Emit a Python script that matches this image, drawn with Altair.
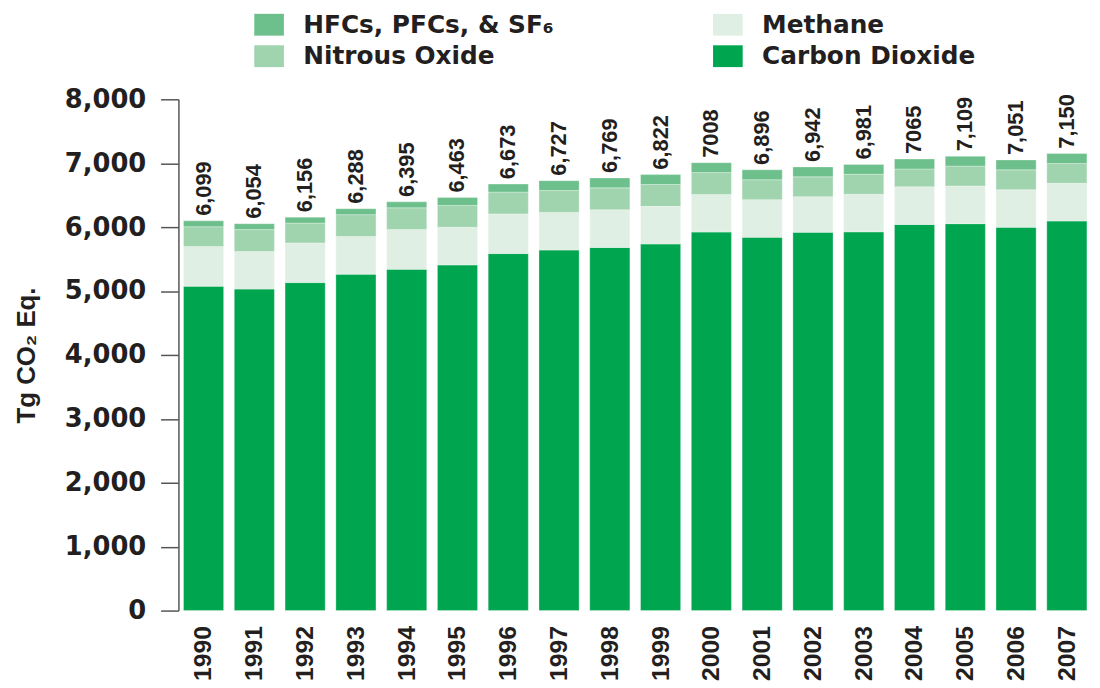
import altair as alt
import pandas as pd

years = ["1990", "1991", "1992", "1993", "1994", "1995", "1996", "1997", "1998",
         "1999", "2000", "2001", "2002", "2003", "2004", "2005", "2006", "2007"]
co2 = [5075, 5030, 5132, 5264, 5340, 5408, 5586, 5640, 5682,
       5736, 5922, 5841, 5918, 5926, 6041, 6054, 5996, 6095]
ch4 = [620, 589, 621, 590, 621, 590, 621, 590, 590,
       589, 589, 589, 558, 589, 590, 590, 590, 590]
n2o = [311, 342, 310, 341, 341, 341, 341, 342, 342,
       342, 342, 311, 311, 311, 279, 310, 310, 310]
hfc = [93, 93, 93, 93, 93, 124, 125, 155, 155,
       155, 155, 155, 155, 155, 155, 155, 155, 155]
total_labels = ["6,099", "6,054", "6,156", "6,288", "6,395", "6,463", "6,673", "6,727", "6,769",
                "6,822", "7008", "6,896", "6,942", "6,981", "7065", "7,109", "7,051", "7,150"]

gas_names = ["HFCs, PFCs, & SF\u2086", "Nitrous Oxide", "Methane", "Carbon Dioxide"]
gas_colors = ["#6DC08B", "#A0D4AE", "#E0EFE3", "#00A64F"]
series = [("Carbon Dioxide", co2, 0), ("Methane", ch4, 1),
          ("Nitrous Oxide", n2o, 2), ("HFCs, PFCs, & SF\u2086", hfc, 3)]

rows = []
for i, yr in enumerate(years):
    for name, vals, rank in series:
        rows.append({"year": yr, "gas": name, "value": vals[i], "rank": rank})
df = pd.DataFrame(rows)

tot = pd.DataFrame({
    "year": years,
    "total": [co2[i] + ch4[i] + n2o[i] + hfc[i] for i in range(len(years))],
    "label": total_labels,
})

TXT = "#231F20"
NARROW = "Liberation Sans, Arial, sans-serif"
x_enc = alt.X("year:N", title=None,
              scale=alt.Scale(paddingInner=0.21, paddingOuter=0.1),
              axis=alt.Axis(labelAngle=-90, labelFont=NARROW,
                            labelFontWeight="bold", labelFontSize=25, labelColor=TXT,
                            labelPadding=15, ticks=False, domain=False))

bars = alt.Chart(df).mark_bar(stroke="white", strokeWidth=0.6, strokeOpacity=0.5).encode(
    x=x_enc,
    y=alt.Y("value:Q", stack="zero",
            scale=alt.Scale(domain=[0, 8000], nice=False),
            axis=alt.Axis(values=[0, 1000, 2000, 3000, 4000, 5000, 6000, 7000, 8000],
                          format=",d", grid=False, domainColor="#555555", domainWidth=1.5,
                          tickColor="#555555", tickWidth=1.5, tickSize=18,
                          labelPadding=15, labelFont="DejaVu Sans", labelFontWeight="bold",
                          labelFontSize=26, labelColor=TXT,
                          title="Tg CO\u2082 Eq.", titleFont=NARROW,
                          titleFontWeight="bold", titleFontSize=26, titleColor=TXT,
                          titleAngle=270, titleAlign="center", titleBaseline="middle",
                          titleX=-153, titleY=258)),
    color=alt.Color("gas:N",
                    scale=alt.Scale(domain=gas_names, range=gas_colors),
                    legend=alt.Legend(orient="none", legendX=79, legendY=-88, columns=2,
                                      columnPadding=160, rowPadding=6, title=None,
                                      labelFont="DejaVu Sans", labelFontWeight="bold",
                                      labelFontSize=25, labelColor=TXT, labelLimit=400,
                                      labelOffset=22, padding=0,
                                      symbolType="M-1.36,-1L1.36,-1L1.36,1L-1.36,1Z",
                                      symbolSize=484, symbolStrokeWidth=0,
                                      symbolOpacity=1)),
    order=alt.Order("rank:Q", sort="ascending"),
)

labels = alt.Chart(tot).mark_text(angle=270, align="left", baseline="middle", dx=5,
                                  font=NARROW, fontWeight="bold",
                                  fontSize=22, color=TXT).encode(
    x=alt.X("year:N"),
    y=alt.Y("total:Q"),
    text="label:N",
)

chart = alt.layer(bars, labels).properties(
    width=922, height=516,
    padding={"left": 172, "top": 89, "right": 0, "bottom": 75},
    autosize=alt.AutoSizeParams(type="none"),
    background="white",
).configure_view(stroke=None)

chart.save("out.html", embed_options={"renderer": "svg", "actions": False})
